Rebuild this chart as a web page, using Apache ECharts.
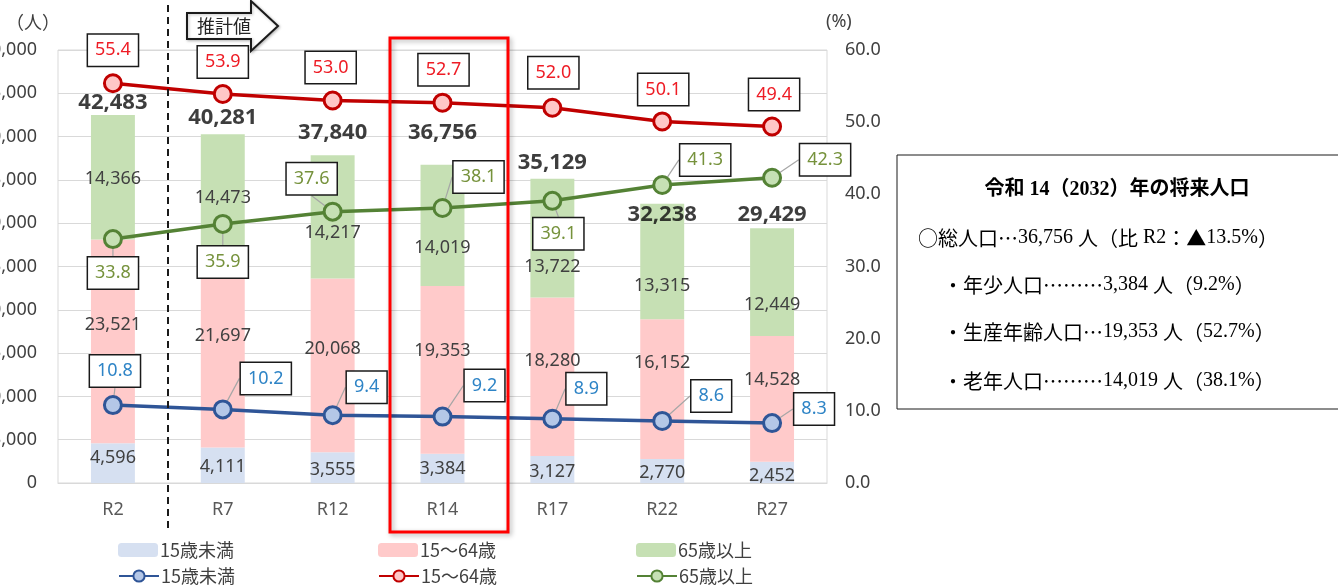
<!DOCTYPE html>
<html>
<head>
<meta charset="utf-8">
<script src="https://cdn.jsdelivr.net/npm/echarts@6/dist/echarts.min.js"></script>
<style>
  html, body { margin: 0; padding: 0; background: #fff; }
  #chart { width: 1338px; height: 587px; }
</style>
</head>
<body>
<div id="chart"></div>
<script>
// 年齢3区分別人口（人）と構成比（%）
const categories = ['R2', 'R7', 'R12', 'R14', 'R17', 'R22', 'R27'];
const youngPop   = [4596, 4111, 3555, 3384, 3127, 2770, 2452];
const workingPop = [23521, 21697, 20068, 19353, 18280, 16152, 14528];
const elderlyPop = [14366, 14473, 14217, 14019, 13722, 13315, 12449];
const totalPop   = [42483, 40281, 37840, 36756, 35129, 32238, 29429];
const youngPct   = [10.8, 10.2, 9.4, 9.2, 8.9, 8.6, 8.3];
const workingPct = [55.4, 53.9, 53.0, 52.7, 52.0, 50.1, 49.4];
const elderlyPct = [33.8, 35.9, 37.6, 38.1, 39.1, 41.3, 42.3];
const leftTicks  = { min: 0, max: 50000, step: 5000 };
const rightTicks = { min: 0, max: 60, step: 10 };

// 説明枠の文言
const noteTitle = '令和 14（2032）年の将来人口';
const noteLines = [
  '○総人口…36,756 人（比 R2：▲13.5%）',
  '・年少人口………3,384 人（9.2%）',
  '・生産年齢人口…19,353 人（52.7%）',
  '・老年人口………14,019 人（38.1%）'
];

// label nudges (pixels) so that labels do not collide
const youngLblDy   = [-5, 2, 2, 1, 2, 2, 3];
const workingLblDy = [-16, -18, -16, -19, -16, -26, -19];
const elderlyLblDy = [2, 1, 16, 22, 29, 24, 23];
const totalLblDy   = [-12, -16, -23, -32, -16, 11, -13];
const workingPctShift = [[0, -33], [0, -32], [-2, -33], [1, -33], [1, -35], [1, -32], [2, -32]];
const elderlyPctShift = [[0, 34], [0, 38], [-21, -33], [36, -31], [6, 33], [43, -25], [53, -18]];
const youngPctShift   = [[2, -34], [43, -31], [34, -28], [42, -31], [34, -30], [49, -25], [42, -14]];

const FONT = '"Noto Sans", "Noto Sans CJK JP", sans-serif';
const CJK = '"Noto Sans CJK JP", sans-serif';
const SERIF = '"Liberation Serif", "Noto Sans CJK JP", serif';

const fmtInt = v => v.toLocaleString('en-US');

// ASCII runs in a serif face, everything else in the CJK face
function richRuns(str) {
  return str.replace(/[\x20-\x7E]+|[^\x20-\x7E]+/g,
    m => (/^[\x20-\x7E]/.test(m) ? '{a|' : '{j|') + m + '}');
}
const noteRich = {
  a: { fontFamily: '"Liberation Serif", serif', fontSize: 20, fill: '#000' },
  j: { fontFamily: CJK, fontSize: 20, fill: '#000' }
};

function barSeries(name, values, dys, color) {
  return {
    name, type: 'bar', stack: 'pop', yAxisIndex: 0, barWidth: '40%',
    itemStyle: { color },
    data: values.map((v, i) => ({
      value: v,
      label: { offset: [0, dys[i]] }
    })),
    label: {
      show: true, position: 'inside', formatter: p => fmtInt(p.value),
      color: '#404040', fontSize: 18, fontFamily: FONT
    },
    z: 2
  };
}

function pctSeries(name, values, shifts, lineColor, fillColor, textColor, leader) {
  return {
    name, type: 'line', yAxisIndex: 1, data: values,
    symbol: 'circle', symbolSize: 17,
    lineStyle: { color: lineColor, width: 3.5 },
    itemStyle: { color: fillColor, borderColor: lineColor, borderWidth: 3 },
    label: {
      show: true, position: 'inside', formatter: p => p.value.toFixed(1),
      color: textColor, fontSize: 18, fontFamily: FONT,
      backgroundColor: '#fff', borderColor: '#1a1a1a', borderWidth: 1.5,
      padding: [7, 7, 6, 7]
    },
    labelLine: { show: leader, lineStyle: { color: '#a6a6a6', width: 1.2 } },
    labelLayout: p => ({ dx: shifts[p.dataIndex][0], dy: shifts[p.dataIndex][1] }),
    z: 5
  };
}

const chart = echarts.init(document.getElementById('chart'), null, { renderer: 'canvas' });

const legendBase = (name, left, top) => ({
  data: [name], left, top, orient: 'horizontal', padding: 0,
  itemWidth: 40, itemHeight: 14, itemGap: 0, selectedMode: false,
  formatter: n => n.replace('の割合', ''),
  textStyle: { fontSize: 18, color: '#404040', fontFamily: CJK, padding: [0, 0, 0, -3] }
});

const noteY = [238, 285, 332, 381];
const noteX = [918, 943, 943, 943];

const option = {
  animation: false,
  backgroundColor: '#fff',
  grid: {
    left: 58, right: 511, top: 50, bottom: 104,
    outerBoundsMode: 'none', containLabel: false,
    show: true, borderColor: '#d9d9d9', borderWidth: 1
  },
  xAxis: {
    type: 'category', data: categories,
    axisLine: { lineStyle: { color: '#d9d9d9', width: 1 } },
    axisTick: { show: false },
    axisLabel: { color: '#595959', fontSize: 18, fontFamily: FONT, margin: 18 }
  },
  yAxis: [
    {
      type: 'value', min: leftTicks.min, max: leftTicks.max, interval: leftTicks.step,
      axisLine: { show: false }, axisTick: { show: false },
      splitLine: { lineStyle: { color: '#d9d9d9', width: 1 } },
      axisLabel: { color: '#404040', fontSize: 18, fontFamily: FONT, margin: 21, formatter: v => fmtInt(v) }
    },
    {
      type: 'value', min: rightTicks.min, max: rightTicks.max, interval: rightTicks.step,
      axisLine: { show: false }, axisTick: { show: false }, splitLine: { show: false },
      axisLabel: { color: '#404040', fontSize: 18, fontFamily: FONT, margin: 18, formatter: v => v.toFixed(1) }
    }
  ],
  legend: [
    legendBase('15歳未満', 118, 541),
    legendBase('15～64歳', 378, 541),
    legendBase('65歳以上', 636, 541),
    legendBase('15歳未満の割合', 118, 567),
    legendBase('15～64歳の割合', 378, 567),
    legendBase('65歳以上の割合', 636, 567)
  ],
  series: [
    barSeries('15歳未満', youngPop, youngLblDy, '#d6e0f1'),
    barSeries('15～64歳', workingPop, workingLblDy, '#ffcaca'),
    barSeries('65歳以上', elderlyPop, elderlyLblDy, '#c6e0b4'),
    {
      name: '総人口', type: 'scatter', yAxisIndex: 0, symbolSize: 1,
      itemStyle: { color: 'rgba(0,0,0,0)' }, silent: true,
      data: totalPop.map((v, i) => ({ value: v, label: { offset: [0, totalLblDy[i]] } })),
      label: {
        show: true, position: 'inside', formatter: p => fmtInt(p.value),
        color: '#0d0d0d', fontSize: 22, fontWeight: 'bold', fontFamily: FONT
      },
      z: 4
    },
    pctSeries('15歳未満の割合', youngPct, youngPctShift, '#2f5597', '#b4c7e7', '#2e84c6', true),
    pctSeries('15～64歳の割合', workingPct, workingPctShift, '#c00000', '#ffc7c7', '#ee1c25', false),
    pctSeries('65歳以上の割合', elderlyPct, elderlyPctShift, '#548235', '#c6e0b4', '#76923c', true)
  ],
  graphic: [
    // 単位
    { type: 'text', x: 6, y: 22, style: { text: '（人）', fill: '#404040', font: '18px ' + CJK, verticalAlign: 'middle' } },
    { type: 'text', x: 826, y: 22, style: { text: '(%)', fill: '#404040', font: '18px ' + FONT, verticalAlign: 'middle' } },
    // 実績と推計の区切り
    { type: 'line', z: 10, shape: { x1: 168, y1: 5, x2: 168, y2: 532 },
      style: { stroke: '#1a1a1a', lineWidth: 2, lineDash: [7, 5] } },
    // 推計値の矢印
    { type: 'polygon', z: 10,
      shape: { points: [[187, 13], [251, 13], [251, 1], [278, 26], [251, 51], [251, 39], [187, 39]] },
      style: { fill: '#fff', stroke: '#1a1a1a', lineWidth: 2, shadowBlur: 3, shadowColor: 'rgba(0,0,0,0.25)', shadowOffsetX: 1, shadowOffsetY: 1 } },
    { type: 'text', z: 11, x: 197, y: 26, style: { text: '推計値', fill: '#262626', font: '18px ' + CJK, verticalAlign: 'middle' } },
    // 令和14年の強調枠
    { type: 'rect', z: 12, shape: { x: 390, y: 38, width: 118, height: 494 },
      style: { fill: 'none', stroke: '#ff0000', lineWidth: 3, shadowBlur: 5, shadowColor: 'rgba(0,0,0,0.3)', shadowOffsetX: 2, shadowOffsetY: 2 } },
    // 将来人口の説明
    { type: 'rect', z: 10, shape: { x: 897, y: 155, width: 460, height: 254 },
      style: { fill: '#fff', stroke: '#1a1a1a', lineWidth: 1 } },
    { type: 'text', z: 11, x: 1117, y: 190,
      style: { text: noteTitle, fill: '#000', font: 'bold 20px ' + SERIF, align: 'center', verticalAlign: 'middle' } }
  ].concat(noteLines.map((t, i) => ({
    type: 'text', z: 11, x: noteX[i], y: noteY[i],
    style: { text: richRuns(t), rich: noteRich, verticalAlign: 'middle' }
  })))
};

chart.setOption(option);
</script>
</body>
</html>
